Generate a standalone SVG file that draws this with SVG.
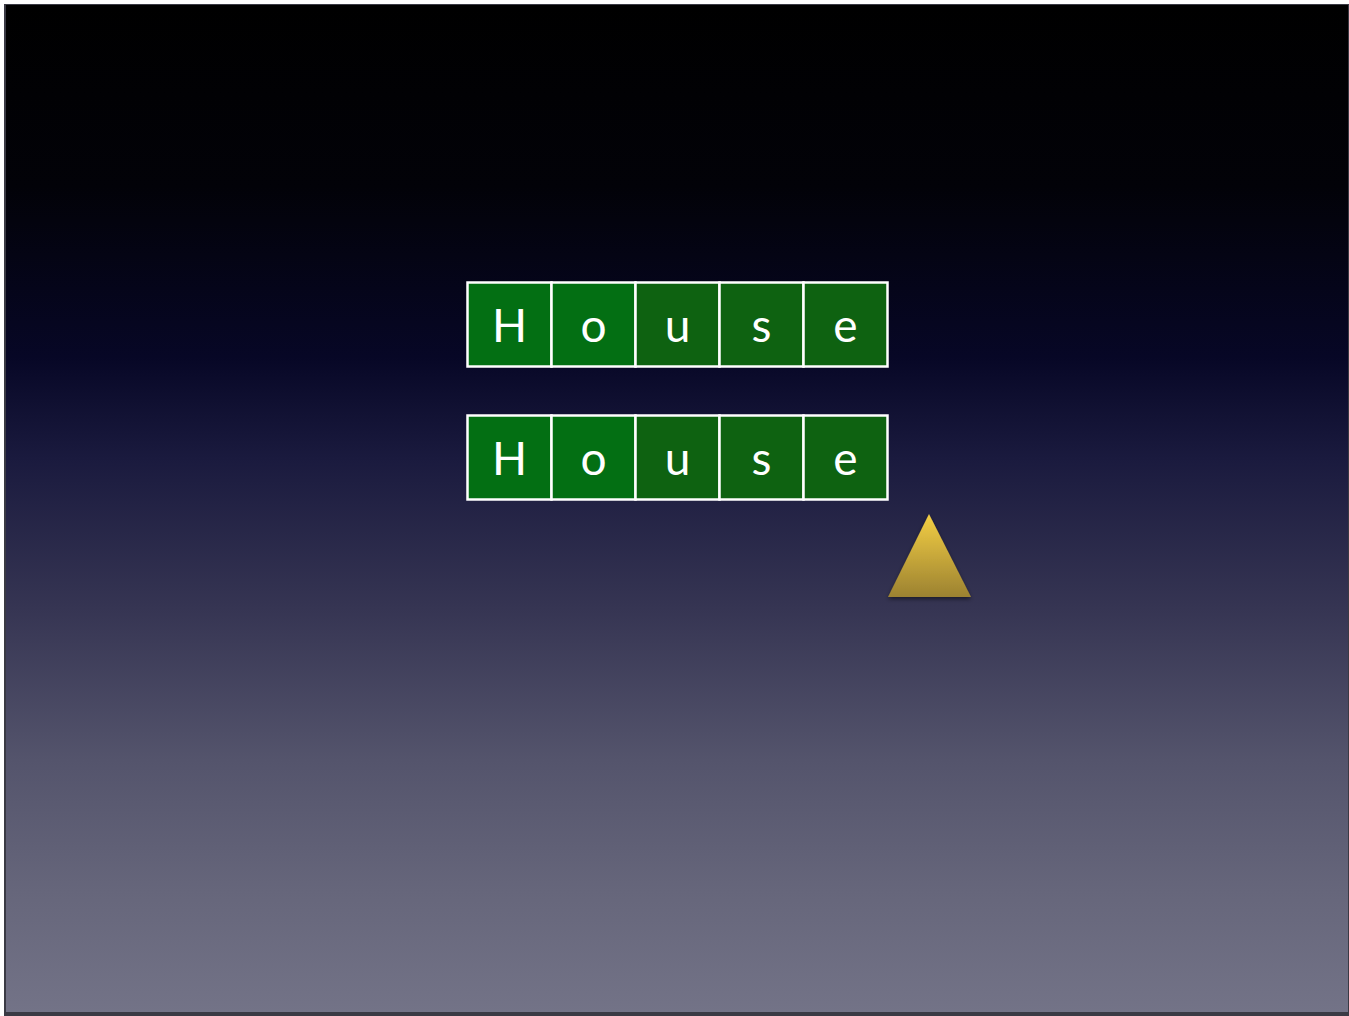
<svg xmlns="http://www.w3.org/2000/svg" width="1349" height="1016" viewBox="0 0 1349 1016">
<defs>
<linearGradient id="bg" x1="0" y1="0" x2="0" y2="1">
<stop offset="0" stop-color="#000000"/>
<stop offset="0.18" stop-color="#020208"/>
<stop offset="0.35" stop-color="#070726"/>
<stop offset="0.45" stop-color="#1a1a3e"/>
<stop offset="0.6" stop-color="#363553"/>
<stop offset="0.75" stop-color="#54546c"/>
<stop offset="0.88" stop-color="#66667b"/>
<stop offset="1" stop-color="#737387"/>
</linearGradient>
<linearGradient id="tri" x1="0" y1="0" x2="0" y2="1">
<stop offset="0" stop-color="#f4cf44"/>
<stop offset="1" stop-color="#9c8231"/>
</linearGradient>
<filter id="sh" x="-20%" y="-20%" width="140%" height="140%">
<feDropShadow dx="0" dy="2" stdDeviation="2" flood-color="#000" flood-opacity="0.5"/>
</filter>
</defs>
<style>
.c1{fill:#036f13;stroke:#ffffff;stroke-width:2.5}
.c2{fill:#0e6211;stroke:#ffffff;stroke-width:2.5}
.t{font-family:Lato,"Open Sans",sans-serif;font-size:46px;fill:#ffffff;text-anchor:middle}
</style>
<rect x="0" y="0" width="1349" height="1016" fill="#ffffff"/>
<rect x="4" y="4" width="1345" height="1012" fill="#3a3a44"/>
<rect x="6" y="5" width="1342" height="1007" fill="url(#bg)"/>
<g id="row1">
<g id="r1-H"><rect class="c1" x="467.5" y="282.5" width="84" height="84"/><text class="t" x="509.5" y="342">H</text></g>
<g id="r1-o"><rect class="c1" x="551.5" y="282.5" width="84" height="84"/><text class="t" x="593.5" y="342">o</text></g>
<g id="r1-u"><rect class="c2" x="635.5" y="282.5" width="84" height="84"/><text class="t" x="677.5" y="342">u</text></g>
<g id="r1-s"><rect class="c2" x="719.5" y="282.5" width="84" height="84"/><text class="t" x="761.5" y="342">s</text></g>
<g id="r1-e"><rect class="c2" x="803.5" y="282.5" width="84" height="84"/><text class="t" x="845.5" y="342">e</text></g>
</g>
<g id="row2">
<g id="r2-H"><rect class="c1" x="467.5" y="415.5" width="84" height="84"/><text class="t" x="509.5" y="475">H</text></g>
<g id="r2-o"><rect class="c1" x="551.5" y="415.5" width="84" height="84"/><text class="t" x="593.5" y="475">o</text></g>
<g id="r2-u"><rect class="c2" x="635.5" y="415.5" width="84" height="84"/><text class="t" x="677.5" y="475">u</text></g>
<g id="r2-s"><rect class="c2" x="719.5" y="415.5" width="84" height="84"/><text class="t" x="761.5" y="475">s</text></g>
<g id="r2-e"><rect class="c2" x="803.5" y="415.5" width="84" height="84"/><text class="t" x="845.5" y="475">e</text></g>
</g>
<g id="pointer"><polygon points="929,514 971,597 888,597" fill="url(#tri)" filter="url(#sh)"/></g>
<g id="connectors"/>
</svg>
